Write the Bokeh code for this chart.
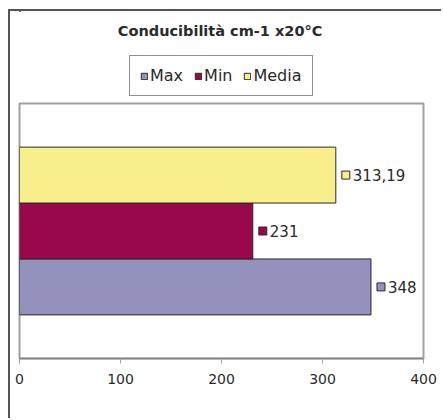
from bokeh.plotting import figure
from bokeh.models import Range1d, FactorRange, Legend, LegendItem, ColumnDataSource, Spacer, Label
from bokeh.layouts import row, column
from bokeh.core.properties import value
from bokeh.embed import file_html
from bokeh.resources import INLINE

title_text = "Conducibilità cm-1 x20°C"
series = ["Max", "Min", "Media"]
values = [348, 231, 313.19]
value_labels = ["348", "231", "313,19"]
colors = ["#9591bd", "#98084a", "#f8ef8c"]
x_ticks = [0, 100, 200, 300, 400]

FONT = "DejaVu Sans"
TEXT_COLOR = "#2a2a2a"
W = 433
HEAD_H = 92
H = 317
FL, FT, FR, FB = 9, 2, 413, 257  # frame edges in chart canvas px

# ---------- header (title + legend) ----------
head = figure(width=W, height=HEAD_H, output_backend="svg", toolbar_location=None,
              x_range=Range1d(0, W), y_range=Range1d(HEAD_H, 0),
              x_axis_location=None, y_axis_location=None,
              min_border=0, min_border_left=0, min_border_right=0,
              min_border_top=0, min_border_bottom=0)
head.outline_line_color = None
head.grid.visible = False
head.background_fill_color = "white"
head.border_fill_color = "white"
head.styles = {"border-left": "2px solid #555555", "border-top": "2px solid #555555"}

head.add_layout(Label(x=(FL + FR) / 2 + 4, y=19, text=title_text, text_align="center",
                      text_baseline="middle", text_font=FONT, text_font_size="14.5px",
                      text_font_style="bold", text_color=TEXT_COLOR))

# legend key renderers: one bar per series, kept outside the visible header range
key_renderers = [head.hbar(y=[-10 * HEAD_H], right=[1], left=0, height=1, fill_color=c,
                           line_color="#2a2a2a", line_width=1) for c in colors]
legend = Legend(items=[LegendItem(label=s, renderers=[key_renderers[i]])
                       for i, s in enumerate(series)],
                orientation="horizontal", location=(110, 7),
                glyph_width=8, glyph_height=8, label_standoff=2, spacing=11,
                padding=10, margin=0, label_height=19,
                label_text_font=FONT, label_text_font_size="16px",
                label_text_color=TEXT_COLOR,
                border_line_color="#222222", border_line_width=1,
                background_fill_color="white", background_fill_alpha=1)
head.add_layout(legend)

# ---------- chart ----------
x_max = 400
px_per_unit = (FR - FL) / x_max
key_x = [v + 10 / px_per_unit for v in values]

src = ColumnDataSource(dict(series=series, value=values, label=value_labels,
                            color=colors, key_x=key_x))

p = figure(width=W, height=H, output_backend="svg", toolbar_location=None,
           x_range=Range1d(0, x_max),
           y_range=FactorRange(factors=series, range_padding=0.52),
           y_axis_location=None,
           min_border_left=FL, min_border_right=W - FR,
           min_border_top=FT, min_border_bottom=H - FB)
p.styles = {"border-left": "2px solid #555555"}
p.background_fill_color = "white"
p.border_fill_color = "white"
p.outline_line_color = "#a0a0a0"
p.outline_line_width = 2
p.grid.visible = False

for i, s in enumerate(series):
    p.hbar(y=[s], right=[values[i]], left=0, height=1.0,
           fill_color=colors[i], line_color="#2a2a2a", line_width=1)

p.scatter(x="key_x", y="series", source=src, marker="square", size=8,
          fill_color="color", line_color="#2a2a2a", line_width=1)
p.text(x="value", y="series", text="label", source=src, x_offset=17,
       text_baseline="middle", text_align="left", text_font_size="15px",
       text_font=value(FONT), text_color=TEXT_COLOR)

ax = p.xaxis[0]
ax.ticker = x_ticks
ax.axis_line_color = "#808080"
ax.axis_line_width = 1.5
ax.major_tick_line_color = "#a0a0a0"
ax.major_tick_in = 0
ax.major_tick_out = 5
ax.minor_tick_line_color = None
ax.major_label_standoff = 10
ax.major_label_text_font = FONT
ax.major_label_text_font_size = "14px"
ax.major_label_text_color = TEXT_COLOR

layout = row(Spacer(width=8), column(Spacer(height=9), head, p))

open("out.html", "w").write(file_html(layout, INLINE))
